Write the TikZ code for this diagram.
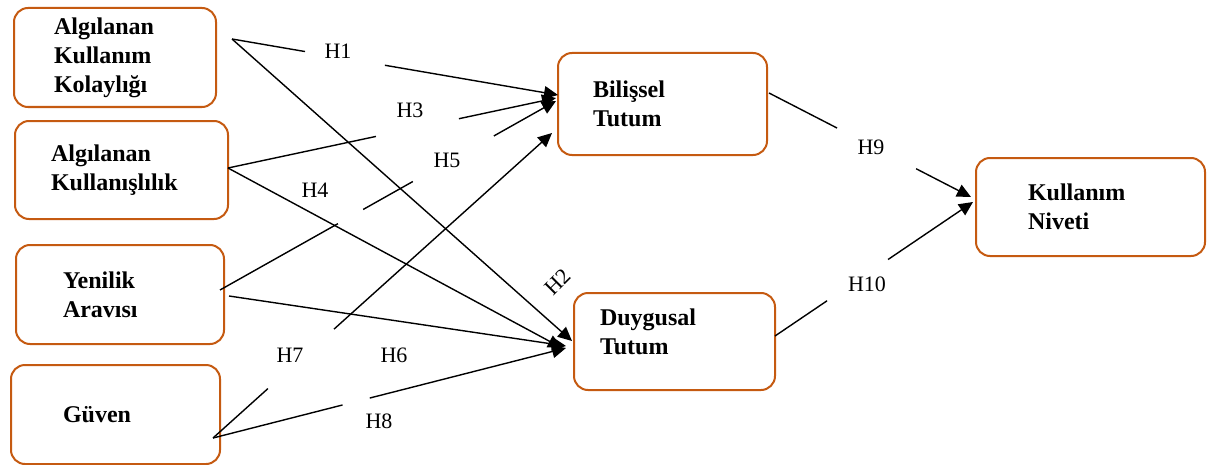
\documentclass[tikz,border=0pt]{standalone}
\usepackage{fontspec}
\setmainfont{Liberation Serif}
\usetikzlibrary{arrows.meta,calc}
\definecolor{boxorange}{RGB}{197,90,17}
\tikzset{
	var/.style={draw=boxorange, line width=1pt, rounded corners=7pt, anchor=north west,
		align=left, font=\bfseries\fontsize{12}{14.5}\selectfont},
	hyp/.style={font=\fontsize{11}{13}\selectfont, inner sep=0pt},
	arr/.style={-{Triangle[length=7pt,width=6.5pt]}},
	link/.style={black, line width=0.7pt},
}
\begin{document}
\begin{tikzpicture}[x=0.5pt, y=-0.5pt]
		\useasboundingbox (0,0) rectangle (1208,465);

		\node[var, minimum width=101pt, minimum height=49.5pt, text width=61pt, inner xsep=20pt]		(akk) at (13,7) {Algılanan\\Kullanım\\Kolaylığı};
		\node[var, minimum width=106.5pt, minimum height=49pt, text width=70.5pt, inner xsep=18pt]	(ak) at (14,120) {Algılanan\\Kullanışlılık};
		\node[var, minimum width=104pt, minimum height=49.5pt, text width=57pt, inner xsep=23.5pt]	(ya) at (15,244) {Yenilik\\Aravısı};
		\node[var, minimum width=104.5pt, minimum height=49.5pt, text width=52.5pt, inner xsep=26pt]	(guv) at (10,364) {Güven};
		\node[var, minimum width=104.5pt, minimum height=51pt, text width=69.5pt, inner xsep=17.5pt]	(bil) at (557,52) {Bilişsel\\Tutum};
		\node[var, minimum width=100.5pt, minimum height=48.5pt, text width=74.5pt, inner xsep=13pt, text depth=24pt]	(duy) at (573,292) {Duygusal\\Tutum};
		\node[var, minimum width=114.5pt, minimum height=49pt, text width=62.5pt, inner xsep=26pt]	(kn) at (975,157) {Kullanım\\Niveti};

		\coordinate (s1) at (232,39);
		\coordinate (s2) at (228,168);
		\coordinate (s3) at (220,290);
		\coordinate (s4) at (229,296);
		\coordinate (s5) at (213,438);
		\coordinate (s9) at (769,93);
		\coordinate (s10) at (775,336);

		\coordinate (e1) at (558,95);
		\coordinate (e3) at (556,98);
		\coordinate (e5) at (556,101);
		\coordinate (e7) at (552,133);
		\coordinate (e2) at (572,341);
		\coordinate (e4) at (562,348);
		\coordinate (e6) at (566,346);
		\coordinate (e8) at (566,348);
		\coordinate (e9) at (971,197);
		\coordinate (e10) at (973,202);

		\node[hyp]				(h1) at (338,51) {H1};
		\node[hyp, rotate=45]	(h2) at (558,282) {H2};
		\node[hyp]				(h3) at (410,110) {H3};
		\node[hyp]				(h4) at (315,190) {H4};
		\node[hyp]				(h5) at (447,160) {H5};
		\node[hyp]				(h6) at (394,355) {H6};
		\node[hyp]				(h7) at (290,355) {H7};
		\node[hyp]				(h8) at (379,421) {H8};
		\node[hyp]				(h9) at (871,147) {H9};
		\node[hyp]				(h10) at (867,284) {H10};

		\draw[link]			(s1) to ($(s1)!.224!(e1)$);
		\draw[link, arr]	($(s1)!.469!(e1)$) to (e1);

		\draw[link, arr]	(s1) to (e2);

		\draw[link]			(s2) to ($(s2)!.451!(e3)$);
		\draw[link, arr]	($(s2)!.704!(e3)$) to (e3);

		\draw[link, arr]	(s2) to (e4);

		\draw[link]			(s3) to ($(s3)!.351!(e5)$);
		\draw[link]			($(s3)!.426!(e5)$) to ($(s3)!.574!(e5)$);
		\draw[link, arr]	($(s3)!.815!(e5)$) to (e5);

		\draw[link, arr]	(s4) to (e6);

		\draw[link]			(s5) to ($(s5)!.162!(e7)$);
		\draw[link, arr]	($(s5)!.357!(e7)$) to (e7);

		\draw[link]			(s5) to ($(s5)!.367!(e8)$);
		\draw[link, arr]	($(s5)!.444!(e8)$) to (e8);

		\draw[link]			(s9) to ($(s9)!.337!(e9)$);
		\draw[link, arr]	($(s9)!.728!(e9)$) to (e9);

		\draw[link]			(s10) to ($(s10)!.263!(e10)$);
		\draw[link, arr]	($(s10)!.571!(e10)$) to (e10);
	\end{tikzpicture}
\end{document}
